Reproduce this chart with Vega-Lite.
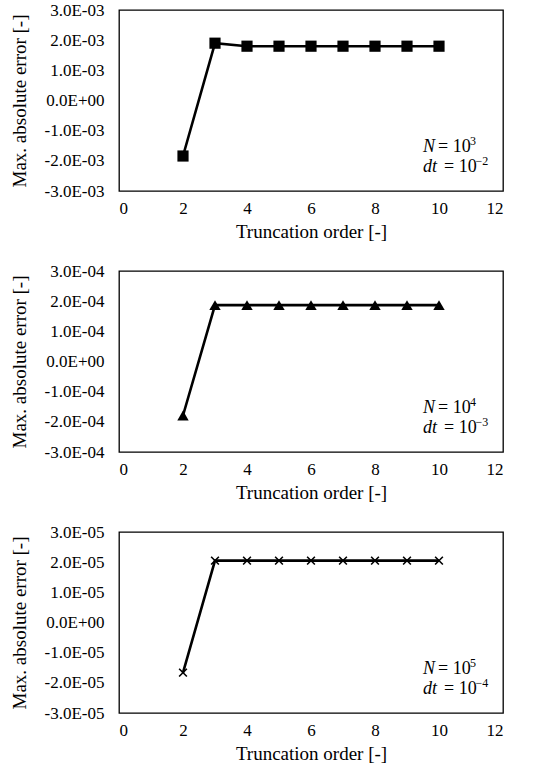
{
  "$schema": "https://vega.github.io/schema/vega-lite/v6.json",
  "padding": {"left": 9, "top": 0, "right": 5, "bottom": 5},
  "bounds": "flush",
  "spacing": 80,
  "datasets": {
    "errors": [
      {"panel": 1, "order": 2, "error": -0.00184},
      {"panel": 1, "order": 3, "error": 0.0019},
      {"panel": 1, "order": 4, "error": 0.0018},
      {"panel": 1, "order": 5, "error": 0.0018},
      {"panel": 1, "order": 6, "error": 0.0018},
      {"panel": 1, "order": 7, "error": 0.0018},
      {"panel": 1, "order": 8, "error": 0.0018},
      {"panel": 1, "order": 9, "error": 0.0018},
      {"panel": 1, "order": 10, "error": 0.0018},
      {"panel": 2, "order": 2, "error": -0.000179},
      {"panel": 2, "order": 3, "error": 0.000187},
      {"panel": 2, "order": 4, "error": 0.000187},
      {"panel": 2, "order": 5, "error": 0.000187},
      {"panel": 2, "order": 6, "error": 0.000187},
      {"panel": 2, "order": 7, "error": 0.000187},
      {"panel": 2, "order": 8, "error": 0.000187},
      {"panel": 2, "order": 9, "error": 0.000187},
      {"panel": 2, "order": 10, "error": 0.000187},
      {"panel": 3, "order": 2, "error": -0.0000166},
      {"panel": 3, "order": 3, "error": 0.0000205},
      {"panel": 3, "order": 4, "error": 0.0000205},
      {"panel": 3, "order": 5, "error": 0.0000205},
      {"panel": 3, "order": 6, "error": 0.0000205},
      {"panel": 3, "order": 7, "error": 0.0000205},
      {"panel": 3, "order": 8, "error": 0.0000205},
      {"panel": 3, "order": 9, "error": 0.0000205},
      {"panel": 3, "order": 10, "error": 0.0000205}
    ],
    "notes": [
      {"panel": 1, "kind": "var", "order": 9.5, "error": -0.00154, "label": "N"},
      {"panel": 1, "kind": "rest", "order": 9.97, "error": -0.00154, "label": "= 10"},
      {"panel": 1, "kind": "sup", "order": 10.97, "error": -0.00134, "label": "3"},
      {"panel": 1, "kind": "var", "order": 9.5, "error": -0.0022, "label": "dt"},
      {"panel": 1, "kind": "rest", "order": 10.16, "error": -0.0022, "label": "= 10"},
      {"panel": 1, "kind": "sup", "order": 11.14, "error": -0.002, "label": "−2"},
      {"panel": 2, "kind": "var", "order": 9.5, "error": -0.000154, "label": "N"},
      {"panel": 2, "kind": "rest", "order": 9.97, "error": -0.000154, "label": "= 10"},
      {"panel": 2, "kind": "sup", "order": 10.97, "error": -0.000134, "label": "4"},
      {"panel": 2, "kind": "var", "order": 9.5, "error": -0.00022, "label": "dt"},
      {"panel": 2, "kind": "rest", "order": 10.16, "error": -0.00022, "label": "= 10"},
      {"panel": 2, "kind": "sup", "order": 11.14, "error": -0.0002, "label": "−3"},
      {"panel": 3, "kind": "var", "order": 9.5, "error": -0.0000154, "label": "N"},
      {"panel": 3, "kind": "rest", "order": 9.97, "error": -0.0000154, "label": "= 10"},
      {"panel": 3, "kind": "sup", "order": 10.97, "error": -0.0000134, "label": "5"},
      {"panel": 3, "kind": "var", "order": 9.5, "error": -0.000022, "label": "dt"},
      {"panel": 3, "kind": "rest", "order": 10.16, "error": -0.000022, "label": "= 10"},
      {"panel": 3, "kind": "sup", "order": 11.14, "error": -0.00002, "label": "−4"}
    ]
  },
  "vconcat": [
    {
      "width": 384,
      "height": 181,
      "encoding": {
        "x": {"field": "order", "type": "quantitative", "title": "Truncation order [-]",
          "scale": {"domain": [0, 12], "nice": false},
          "axis": {"values": [0, 2, 4, 6, 8, 10, 12]}},
        "y": {"field": "error", "type": "quantitative", "title": "Max. absolute error [-]",
          "scale": {"domain": [-0.003, 0.003], "nice": false},
          "axis": {"values": [-0.003, -0.002, -0.001, 0, 0.001, 0.002, 0.003],
            "labelExpr": "datum.value == 0 ? '0.0E+00' : (datum.value < 0 ? '-' : '') + format(abs(datum.value) * 1e3, '.1f') + 'E-03'"}}
      },
      "layer": [
        {"data": {"name": "errors"}, "transform": [{"filter": "datum.panel == 1"}],
          "mark": {"type": "line", "color": "black", "strokeWidth": 2.6}},
        {"data": {"name": "errors"}, "transform": [{"filter": "datum.panel == 1"}],
          "mark": {"type": "point", "shape": "square", "filled": true, "color": "black", "size": 125, "opacity": 1}},
        {"data": {"name": "notes"}, "transform": [{"filter": "datum.panel == 1 && datum.kind == 'var'"}],
          "mark": {"type": "text", "align": "left", "baseline": "middle", "fontStyle": "italic", "fontSize": 18, "font": "Liberation Serif"},
          "encoding": {"text": {"field": "label"}}},
        {"data": {"name": "notes"}, "transform": [{"filter": "datum.panel == 1 && datum.kind == 'rest'"}],
          "mark": {"type": "text", "align": "left", "baseline": "middle", "fontSize": 18, "font": "Liberation Serif"},
          "encoding": {"text": {"field": "label"}}},
        {"data": {"name": "notes"}, "transform": [{"filter": "datum.panel == 1 && datum.kind == 'sup'"}],
          "mark": {"type": "text", "align": "left", "baseline": "middle", "fontSize": 12, "font": "Liberation Serif"},
          "encoding": {"text": {"field": "label"}}}
      ]
    },
    {
      "width": 384,
      "height": 181,
      "encoding": {
        "x": {"field": "order", "type": "quantitative", "title": "Truncation order [-]",
          "scale": {"domain": [0, 12], "nice": false},
          "axis": {"values": [0, 2, 4, 6, 8, 10, 12]}},
        "y": {"field": "error", "type": "quantitative", "title": "Max. absolute error [-]",
          "scale": {"domain": [-0.0003, 0.0003], "nice": false},
          "axis": {"values": [-0.0003, -0.0002, -0.0001, 0, 0.0001, 0.0002, 0.0003],
            "labelExpr": "datum.value == 0 ? '0.0E+00' : (datum.value < 0 ? '-' : '') + format(abs(datum.value) * 1e4, '.1f') + 'E-04'"}}
      },
      "layer": [
        {"data": {"name": "errors"}, "transform": [{"filter": "datum.panel == 2"}],
          "mark": {"type": "line", "color": "black", "strokeWidth": 2.6}},
        {"data": {"name": "errors"}, "transform": [{"filter": "datum.panel == 2"}],
          "mark": {"type": "point", "shape": "triangle-up", "filled": true, "color": "black", "size": 130, "opacity": 1}},
        {"data": {"name": "notes"}, "transform": [{"filter": "datum.panel == 2 && datum.kind == 'var'"}],
          "mark": {"type": "text", "align": "left", "baseline": "middle", "fontStyle": "italic", "fontSize": 18, "font": "Liberation Serif"},
          "encoding": {"text": {"field": "label"}}},
        {"data": {"name": "notes"}, "transform": [{"filter": "datum.panel == 2 && datum.kind == 'rest'"}],
          "mark": {"type": "text", "align": "left", "baseline": "middle", "fontSize": 18, "font": "Liberation Serif"},
          "encoding": {"text": {"field": "label"}}},
        {"data": {"name": "notes"}, "transform": [{"filter": "datum.panel == 2 && datum.kind == 'sup'"}],
          "mark": {"type": "text", "align": "left", "baseline": "middle", "fontSize": 12, "font": "Liberation Serif"},
          "encoding": {"text": {"field": "label"}}}
      ]
    },
    {
      "width": 384,
      "height": 181,
      "encoding": {
        "x": {"field": "order", "type": "quantitative", "title": "Truncation order [-]",
          "scale": {"domain": [0, 12], "nice": false},
          "axis": {"values": [0, 2, 4, 6, 8, 10, 12]}},
        "y": {"field": "error", "type": "quantitative", "title": "Max. absolute error [-]",
          "scale": {"domain": [-0.00003, 0.00003], "nice": false},
          "axis": {"values": [-0.00003, -0.00002, -0.00001, 0, 0.00001, 0.00002, 0.00003],
            "labelExpr": "datum.value == 0 ? '0.0E+00' : (datum.value < 0 ? '-' : '') + format(abs(datum.value) * 1e5, '.1f') + 'E-05'"}}
      },
      "layer": [
        {"data": {"name": "errors"}, "transform": [{"filter": "datum.panel == 3"}],
          "mark": {"type": "line", "color": "black", "strokeWidth": 2.6}},
        {"data": {"name": "errors"}, "transform": [{"filter": "datum.panel == 3"}],
          "mark": {"type": "point", "shape": "M-1,-1L1,1M-1,1L1,-1", "filled": false, "color": "black", "strokeWidth": 1.6, "size": 60, "opacity": 1}},
        {"data": {"name": "notes"}, "transform": [{"filter": "datum.panel == 3 && datum.kind == 'var'"}],
          "mark": {"type": "text", "align": "left", "baseline": "middle", "fontStyle": "italic", "fontSize": 18, "font": "Liberation Serif"},
          "encoding": {"text": {"field": "label"}}},
        {"data": {"name": "notes"}, "transform": [{"filter": "datum.panel == 3 && datum.kind == 'rest'"}],
          "mark": {"type": "text", "align": "left", "baseline": "middle", "fontSize": 18, "font": "Liberation Serif"},
          "encoding": {"text": {"field": "label"}}},
        {"data": {"name": "notes"}, "transform": [{"filter": "datum.panel == 3 && datum.kind == 'sup'"}],
          "mark": {"type": "text", "align": "left", "baseline": "middle", "fontSize": 12, "font": "Liberation Serif"},
          "encoding": {"text": {"field": "label"}}}
      ]
    }
  ],
  "config": {
    "font": "Liberation Serif",
    "background": "white",
    "view": {"stroke": "black", "strokeWidth": 1.3},
    "axis": {
      "grid": false,
      "ticks": false,
      "domain": false,
      "labelFont": "Liberation Serif",
      "labelFontSize": 17,
      "labelColor": "black",
      "titleFont": "Liberation Serif",
      "titleFontSize": 19,
      "titleFontWeight": "normal",
      "titleColor": "black"
    },
    "axisX": {"labelPadding": 9, "titlePadding": 6},
    "axisY": {"labelPadding": 15, "titlePadding": 15}
  }
}
